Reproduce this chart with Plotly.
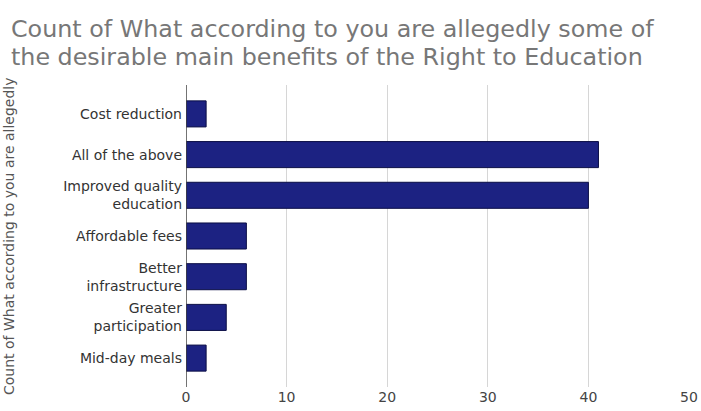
import plotly.graph_objects as go

categories = ["Cost reduction", "All of the above", "Improved quality<br>education",
              "Affordable fees", "Better<br>infrastructure", "Greater<br>participation",
              "Mid-day meals"]
counts = [2, 41, 40, 6, 6, 4, 2]
x_ticks = [0, 10, 20, 30, 40, 50]

title_lines = ["Count of What according to you are allegedly some of",
               "the desirable main benefits of the Right to Education"]
y_title = "Count of What according to you are allegedly"

W, H = 701, 411
L, R, T, B = 186, 12, 85, 24
PW, PH = W - L - R, H - T - B


def px_x(x):
    return (x - L) / PW


def px_y(y):
    return (H - B - y) / PH


FONT = "DejaVu Sans, Verdana, sans-serif"

fig = go.Figure(go.Bar(
    x=counts, y=categories, orientation="h",
    marker=dict(color="#1c2282", line=dict(color="#0a0d45", width=1)),
    hoverinfo="x+y",
))

annotations = [dict(text=y_title, textangle=-90, xref="paper", yref="paper",
                    x=px_x(9), y=0.5, xanchor="center", yanchor="middle",
                    showarrow=False, font=dict(size=14, color="#555555"))]
for i, line in enumerate(title_lines):
    annotations.append(dict(text=line, xref="paper", yref="paper",
                            x=px_x(9), y=px_y(29 + 28 * i), xanchor="left", yanchor="middle",
                            showarrow=False,
                            font=dict(family=FONT, size=23.8, color="#777777")))

fig.update_layout(
    width=W, height=H,
    margin=dict(l=L, r=R, t=T, b=B, autoexpand=False),
    paper_bgcolor="white", plot_bgcolor="white",
    bargap=0.36,
    showlegend=False,
    font=dict(family=FONT, color="#333333", size=14),
    xaxis=dict(range=[0, 50], tickvals=x_ticks, showgrid=True, gridcolor="#d6d6d6",
               gridwidth=1, zeroline=False, showline=False, ticks="",
               tickfont=dict(size=14, color="#444444"), fixedrange=True),
    yaxis=dict(categoryorder="array", categoryarray=categories,
               range=[6.71, -0.71], showgrid=False, zeroline=False,
               showline=False, ticks="", ticklabelstandoff=3,
               tickfont=dict(size=14, color="#333333"), fixedrange=True),
    shapes=[dict(type="line", xref="x", yref="paper", x0=0, x1=0, y0=0, y1=1,
                 line=dict(color="#444444", width=1.5))],
    annotations=annotations,
)

fig.write_html("out.html", config={"displayModeBar": False},
               post_script="document.body.style.margin='0';")
